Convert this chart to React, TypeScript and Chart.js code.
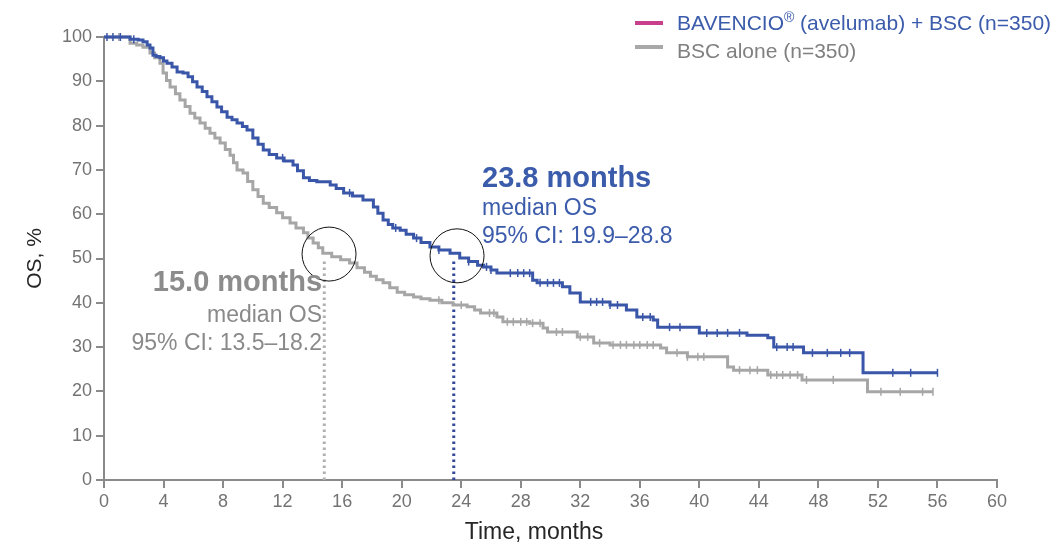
import React, { useEffect, useRef } from "react";
import { Chart, registerables } from "chart.js";

Chart.register(...registerables);

// ---------- data ----------
const xTicks = [0, 4, 8, 12, 16, 20, 24, 28, 32, 36, 40, 44, 48, 52, 56, 60];
const yTicks = [0, 10, 20, 30, 40, 50, 60, 70, 80, 90, 100];

// BAVENCIO (avelumab) + BSC — KM step points (months, OS %)
const avelumabTime = [0, 1.55, 1.75, 2.3, 2.62, 2.9, 3.09, 3.29, 3.5, 3.76, 4.0, 4.23, 4.57, 4.91, 5.31, 5.65, 5.95, 6.25, 6.6, 6.92, 7.25, 7.59, 7.9, 8.27, 8.6, 8.94, 9.3, 9.61, 10.0, 10.35, 10.7, 11.1, 11.6, 12.1, 12.7, 13.0, 13.4, 13.8, 14.3, 15.2, 15.6, 16.1, 16.7, 17.4, 18.1, 18.4, 18.75, 19.1, 19.4, 19.9, 20.3, 20.8, 21.3, 21.9, 22.5, 23.25, 23.9, 24.5, 25.1, 25.5, 26.0, 26.4, 28.8, 29.1, 30.8, 31.3, 32.0, 34.0, 35.1, 35.8, 36.9, 37.2, 40.0, 43.2, 44.6, 45.0, 47.0, 51.0, 56.0];
const avelumabOS = [100, 100, 99.5, 99.3, 98.9, 98.2, 97.5, 95.9, 95.6, 95.3, 94.6, 94.1, 93.2, 92.1, 91.9, 91.0, 89.9, 88.7, 87.7, 86.5, 85.4, 84.2, 83.1, 81.9, 81.3, 80.6, 79.8, 79.0, 77.2, 75.8, 74.5, 73.5, 72.7, 72.0, 71.1, 69.8, 68.2, 67.6, 67.3, 66.6, 65.8, 64.8, 64.1, 63.2, 61.6, 60.2, 58.7, 57.7, 56.9, 56.4, 55.5, 54.6, 53.6, 52.6, 51.9, 51.2, 50.1, 49.3, 48.5, 48.1, 47.4, 46.7, 45.1, 44.5, 43.6, 42.2, 40.2, 39.5, 38.4, 36.8, 36.1, 34.5, 33.2, 32.7, 32.1, 30.0, 28.7, 24.2, 24.2];

// BSC alone
const bscTime = [0, 1.55, 1.75, 2.2, 2.62, 3.09, 3.4, 3.76, 3.97, 4.2, 4.44, 4.8, 5.1, 5.45, 5.78, 6.1, 6.45, 6.8, 7.12, 7.45, 7.8, 8.15, 8.47, 8.7, 8.94, 9.34, 9.65, 10.0, 10.35, 10.7, 11.1, 11.6, 12.0, 12.5, 12.9, 13.4, 13.7, 14.05, 14.4, 14.7, 15.3, 15.9, 16.5, 17.0, 17.5, 17.9, 18.3, 18.75, 19.2, 19.7, 20.2, 20.8, 21.3, 21.9, 22.7, 23.45, 24.4, 24.9, 25.3, 26.4, 26.8, 28.6, 29.5, 29.8, 31.8, 32.9, 34.0, 37.4, 37.8, 39.2, 41.9, 42.3, 44.6, 46.9, 51.3, 55.7];
const bscOS = [100, 100, 98.6, 98.2, 97.7, 96.4, 95.3, 94.1, 91.9, 90.2, 88.7, 87.2, 85.8, 84.3, 82.8, 81.7, 80.6, 79.4, 78.3, 77.2, 76.1, 74.6, 73.3, 71.6, 70.0, 69.3, 67.4, 65.5, 64.0, 62.5, 61.5, 60.3, 59.2, 58.0, 56.9, 55.8, 54.6, 53.5, 52.4, 51.2, 50.4, 49.7, 49.0, 47.9, 46.9, 46.0, 45.2, 44.5, 43.4, 42.4, 41.8, 41.3, 40.9, 40.6, 40.0, 39.5, 39.1, 38.4, 37.7, 36.8, 35.7, 35.4, 34.3, 33.4, 32.3, 30.9, 30.5, 29.8, 28.7, 27.8, 25.5, 24.8, 23.7, 22.6, 19.9, 19.9];

// censoring marks (months)
const avelumabCensor = [0.2, 0.6, 1.1, 2.0, 12.0, 16.5, 19.6, 21.0, 22.5, 24.5, 25.7, 26.0, 27.3, 27.8, 28.2, 28.6, 29.3, 29.8, 30.2, 30.6, 32.7, 33.1, 33.5, 34.0, 34.5, 36.2, 36.7, 38.0, 38.7, 40.5, 41.2, 41.9, 42.7, 45.2, 45.9, 46.3, 47.6, 48.6, 49.5, 50.1, 53.0, 54.2, 56.0];
const bscCensor = [1.0, 22.5, 24.0, 25.9, 26.2, 27.1, 27.5, 28.0, 28.4, 28.8, 29.3, 30.4, 30.8, 32.0, 32.5, 33.3, 34.2, 34.7, 35.1, 35.6, 36.0, 36.5, 36.9, 38.5, 39.2, 39.9, 40.3, 42.7, 43.4, 43.9, 44.8, 45.2, 45.6, 46.1, 46.6, 47.2, 49.0, 52.2, 53.5, 55.0, 55.7];

// median marker lines as drawn (months), and OS level 50 %
const medianLineTimes = [14.8, 23.5];
const medianLevel = 50;
// highlight circles (months, OS %)
const circleCenters = [{ x: 15.12, y: 51.0 }, { x: 23.72, y: 50.6 }];

const seriesLabels = ["BAVENCIO", "BSC alone (n=350)"];
const blueText = ["23.8 months", "median OS", "95% CI: 19.9–28.8"];
const grayText = ["15.0 months", "median OS", "95% CI: 13.5–18.2"];

// ---------- styles ----------
const BLUE = "#3a56a8";
const BLUE_TEXT = "#3b5bab";
const BLUE_DOT = "#34489a";
const GRAY = "#a6a6a6";
const GRAY_TEXT = "#8a8a8a";
const PINK = "#c8408c";
const AXIS = "#8a8a8a";
const FONT = "'Liberation Sans', Arial, Helvetica, sans-serif";

function stepAt(times: number[], vals: number[], t: number) {
  let v = vals[0];
  for (let i = 0; i < times.length; i++) {
    if (times[i] <= t) v = vals[i];
  }
  return v;
}

const zip = (t: number[], v: number[]) => t.map((x, i) => ({ x, y: v[i] }));

const overlayPlugin = {
  id: "overlay",
  afterDraw(chart: any) {
    const { ctx } = chart;
    const x = chart.scales.x;
    const y = chart.scales.y;
    ctx.save();
    ctx.textBaseline = "alphabetic";

    // blue annotation
    const bx = x.getPixelForValue(25.4);
    ctx.fillStyle = BLUE_TEXT;
    ctx.textAlign = "left";
    ctx.font = `bold 29px ${FONT}`;
    ctx.fillText(blueText[0], bx, y.getPixelForValue(66.1));
    ctx.font = `23px ${FONT}`;
    ctx.fillText(blueText[1], bx, y.getPixelForValue(59.8));
    ctx.fillText(blueText[2], bx, y.getPixelForValue(53.5));

    // gray annotation
    const gx = x.getPixelForValue(14.65);
    ctx.fillStyle = "#8c8c8c";
    ctx.textAlign = "right";
    ctx.font = `bold 29px ${FONT}`;
    ctx.fillText(grayText[0], gx, y.getPixelForValue(42.7));
    ctx.fillStyle = GRAY_TEXT;
    ctx.font = `23px ${FONT}`;
    ctx.fillText(grayText[1], gx, y.getPixelForValue(35.7));
    ctx.fillText(grayText[2], gx, y.getPixelForValue(29.3));

    // axis titles
    ctx.fillStyle = "#262626";
    ctx.textAlign = "center";
    ctx.textBaseline = "middle";
    ctx.font = `23px ${FONT}`;
    ctx.fillText("Time, months", 534, 533);
    ctx.save();
    ctx.translate(35, (chart.chartArea.top + chart.chartArea.bottom) / 2);
    ctx.rotate(-Math.PI / 2);
    ctx.font = `21px ${FONT}`;
    ctx.fillText("OS, %", 0, 0);
    ctx.restore();

    // legend
    ctx.lineWidth = 4;
    ctx.strokeStyle = PINK;
    ctx.beginPath();
    ctx.moveTo(635, 23);
    ctx.lineTo(663, 23);
    ctx.stroke();
    ctx.strokeStyle = "#a8a8a8";
    ctx.beginPath();
    ctx.moveTo(635, 47);
    ctx.lineTo(663, 47);
    ctx.stroke();

    ctx.textAlign = "left";
    ctx.textBaseline = "alphabetic";
    ctx.fillStyle = BLUE_TEXT;
    ctx.font = `21px ${FONT}`;
    let lx = 677;
    ctx.fillText(seriesLabels[0], lx, 30);
    lx += ctx.measureText(seriesLabels[0]).width;
    ctx.font = `14px ${FONT}`;
    ctx.fillText("®", lx, 22);
    lx += ctx.measureText("®").width;
    ctx.font = `21px ${FONT}`;
    ctx.fillText(" (avelumab) + BSC (n=350)", lx, 30);

    ctx.fillStyle = "#808080";
    ctx.fillText(seriesLabels[1], 677, 58);
    ctx.restore();
  },
};

export default function App() {
  const ref = useRef<HTMLCanvasElement | null>(null);

  useEffect(() => {
    document.body.style.margin = "0";
    const canvas = ref.current;
    if (!canvas) return;

    const censorPts = (times: number[], t: number[], v: number[]) =>
      times.map((c) => ({ x: c, y: stepAt(t, v, c) }));

    const chart = new Chart(canvas, {
      type: "line",
      data: {
        datasets: [
          {
            label: "circles",
            type: "scatter",
            data: circleCenters,
            pointRadius: 27,
            pointStyle: "circle",
            backgroundColor: "rgba(0,0,0,0)",
            borderColor: "#111",
            borderWidth: 1,
            order: 0,
            clip: false,
          } as any,
          {
            label: "avelumab censor",
            type: "scatter",
            data: censorPts(avelumabCensor, avelumabTime, avelumabOS),
            pointStyle: "line",
            rotation: 90,
            pointRadius: 4,
            borderColor: BLUE,
            borderWidth: 1.5,
            order: 1,
            clip: false,
          } as any,
          {
            label: "BAVENCIO (avelumab) + BSC (n=350)",
            data: zip(avelumabTime, avelumabOS),
            borderColor: BLUE,
            borderWidth: 3,
            stepped: "before",
            pointRadius: 0,
            fill: false,
            order: 2,
            clip: false,
          } as any,
          {
            label: "bsc censor",
            type: "scatter",
            data: censorPts(bscCensor, bscTime, bscOS),
            pointStyle: "line",
            rotation: 90,
            pointRadius: 4,
            borderColor: GRAY,
            borderWidth: 1.5,
            order: 3,
            clip: false,
          } as any,
          {
            label: "BSC alone (n=350)",
            data: zip(bscTime, bscOS),
            borderColor: GRAY,
            borderWidth: 3,
            stepped: "before",
            pointRadius: 0,
            fill: false,
            order: 4,
            clip: false,
          } as any,
          {
            label: "median avelumab",
            data: [
              { x: medianLineTimes[1], y: 0 },
              { x: medianLineTimes[1], y: medianLevel },
            ],
            borderColor: BLUE_DOT,
            borderWidth: 3,
            borderDash: [2.5, 3.5],
            pointRadius: 0,
            order: 5,
          } as any,
          {
            label: "median bsc",
            data: [
              { x: medianLineTimes[0], y: 0 },
              { x: medianLineTimes[0], y: medianLevel },
            ],
            borderColor: "#b0b0b0",
            borderWidth: 3,
            borderDash: [2.5, 3.5],
            pointRadius: 0,
            order: 6,
          } as any,
        ],
      },
      options: {
        responsive: false,
        animation: false,
        events: [],
        layout: { padding: { left: 0, top: 37, right: 64, bottom: 0 } },
        plugins: {
          legend: { display: false },
          tooltip: { enabled: false },
          title: { display: false },
        },
        scales: {
          x: {
            type: "linear",
            min: 0,
            max: 60,
            afterBuildTicks: (s: any) => {
              s.ticks = xTicks.map((v) => ({ value: v }));
            },
            afterFit: (s: any) => {
              s.height = 65;
            },
            grid: {
              drawOnChartArea: false,
              drawTicks: true,
              tickLength: 8,
              color: AXIS,
              lineWidth: 2,
            },
            border: { display: true, color: AXIS, width: 2 },
            ticks: {
              color: "#737373",
              font: { size: 18, family: FONT },
              padding: 3,
              maxRotation: 0,
              autoSkip: false,
            },
          },
          y: {
            type: "linear",
            min: 0,
            max: 100,
            afterBuildTicks: (s: any) => {
              s.ticks = yTicks.map((v) => ({ value: v }));
            },
            afterFit: (s: any) => {
              s.width = 104;
            },
            grid: {
              drawOnChartArea: false,
              drawTicks: true,
              tickLength: 8,
              color: AXIS,
              lineWidth: 2,
            },
            border: { display: true, color: AXIS, width: 2 },
            ticks: {
              color: "#737373",
              font: { size: 18, family: FONT },
              padding: 4,
              autoSkip: false,
            },
          },
        },
      } as any,
      plugins: [overlayPlugin],
    });

    return () => chart.destroy();
  }, []);

  return (
    <div style={{ position: "absolute", left: 0, top: 0, width: 1061, height: 545, background: "#fff" }}>
      <canvas ref={ref} width={1061} height={545} style={{ display: "block" }} />
    </div>
  );
}
